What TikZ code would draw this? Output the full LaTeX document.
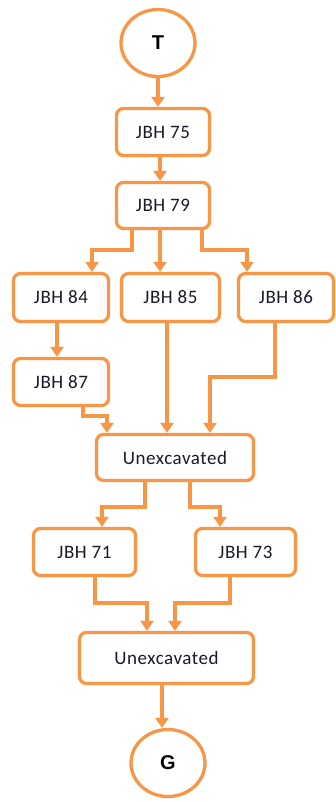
\documentclass[tikz,border=0pt]{standalone}
\usepackage{fontspec}
\setmainfont{Carlito}
\newfontfamily\boldsans{Liberation Sans}
\usetikzlibrary{arrows.meta,shapes.geometric}
\definecolor{org}{RGB}{247,150,70}
\definecolor{txt}{RGB}{25,25,40}
\tikzset{
  box/.style={draw=org, line width=3.3pt, rounded corners=7pt, rectangle, inner sep=0pt,
    text=txt, font={\fontsize{19pt}{21pt}\selectfont\addfontfeature{LetterSpace=3}}},
  term/.style={draw=org, line width=3.3pt, ellipse, inner sep=0pt, minimum width=74pt, minimum height=67pt,
    font={\boldsans\bfseries\fontsize{20pt}{22pt}\selectfont}, text=black},
  conn/.style={draw=org, line width=3.3pt, -{Triangle[width=13pt,length=10pt]}}
}
\begin{document}
\begin{tikzpicture}[x=1pt,y=-1pt]
\useasboundingbox (0,0) rectangle (336,802);
% nodes
\node[term] (T) at (158,43) {T};
\node[box, minimum width=93pt, minimum height=47pt] (b75) at (163,132) {JBH 75};
\node[box, minimum width=93pt, minimum height=46pt] (b79) at (163,205.5) {JBH 79};
\node[box, minimum width=95pt, minimum height=48pt] (b84) at (61,297.5) {JBH 84};
\node[box, minimum width=98pt, minimum height=48pt] (b85) at (170.5,297.5) {JBH 85};
\node[box, minimum width=95pt, minimum height=48pt] (b86) at (286,297.5) {JBH 86};
\node[box, minimum width=95pt, minimum height=47pt] (b87) at (61,382) {JBH 87};
\node[box, minimum width=157pt, minimum height=46pt] (u1) at (175,457.5) {Unexcavated};
\node[box, minimum width=102pt, minimum height=47pt] (b71) at (84.5,552) {JBH 71};
\node[box, minimum width=100pt, minimum height=47pt] (b73) at (245.5,552) {JBH 73};
\node[box, minimum width=174pt, minimum height=51pt] (u2) at (166.5,658) {Unexcavated};
\node[term] (G) at (168,763) {G};
% helper coordinates
\coordinate (x2) at (160,0);
\coordinate (k3a) at (132,250); \coordinate (k3b) at (92,250);
\coordinate (x4) at (160,0);
\coordinate (k5a) at (202,250); \coordinate (k5b) at (247,250);
\coordinate (x6) at (57,0);
\coordinate (k7a) at (83,416); \coordinate (k7b) at (107,416);
\coordinate (x8) at (167,0);
\coordinate (k9a) at (275,377); \coordinate (k9b) at (210,377);
\coordinate (k10a) at (145,507); \coordinate (k10b) at (102,507);
\coordinate (k11a) at (190,507); \coordinate (k11b) at (220,507);
\coordinate (k12a) at (95,603); \coordinate (k12b) at (147,603);
\coordinate (k13a) at (230,603); \coordinate (k13b) at (175,603);
\coordinate (x14) at (162,0);
% connectors
\draw[conn] (T.south) -- (T.south |- b75.north);
\draw[conn] (b75.south -| x2) -- (b79.north -| x2);
\draw[conn] (b79.south -| k3a) -- (k3a) -- (k3b) -- (b84.north -| k3b);
\draw[conn] (b79.south -| x4) -- (b85.north -| x4);
\draw[conn] (b79.south -| k5a) -- (k5a) -- (k5b) -- (b86.north -| k5b);
\draw[conn] (b84.south -| x6) -- (b87.north -| x6);
\draw[conn] (b87.south -| k7a) -- (k7a) -- (k7b) -- (u1.north -| k7b);
\draw[conn] (b85.south -| x8) -- (u1.north -| x8);
\draw[conn] (b86.south -| k9a) -- (k9a) -- (k9b) -- (u1.north -| k9b);
\draw[conn] (u1.south -| k10a) -- (k10a) -- (k10b) -- (b71.north -| k10b);
\draw[conn] (u1.south -| k11a) -- (k11a) -- (k11b) -- (b73.north -| k11b);
\draw[conn] (b71.south -| k12a) -- (k12a) -- (k12b) -- (u2.north -| k12b);
\draw[conn] (b73.south -| k13a) -- (k13a) -- (k13b) -- (u2.north -| k13b);
\draw[conn] (u2.south -| x14) -- (G.north -| x14);
\end{tikzpicture}
\end{document}
